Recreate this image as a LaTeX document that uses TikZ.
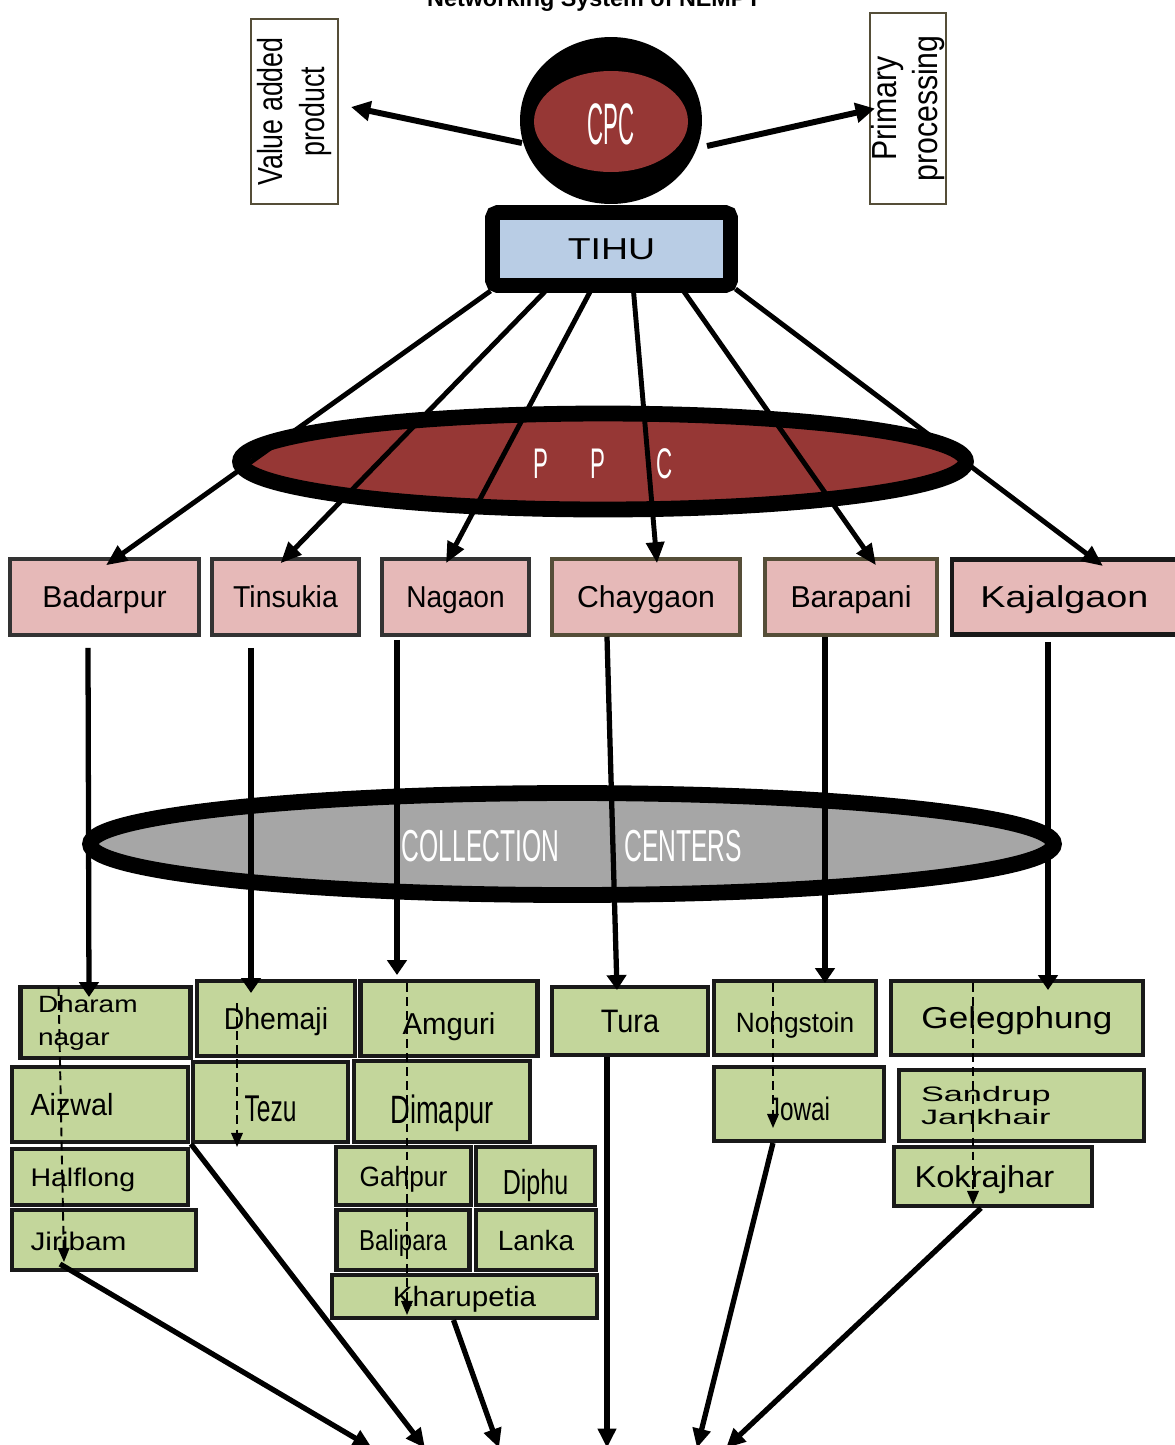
\documentclass[tikz,border=0pt]{standalone}
\usepackage{fontspec}
\setmainfont{Liberation Sans}
\usetikzlibrary{positioning,calc,arrows.meta,shapes.geometric}
\definecolor{cpcred}{RGB}{150,55,53}
\definecolor{tihublue}{RGB}{185,205,229}
\definecolor{pinkbox}{RGB}{230,185,184}
\definecolor{greenbox}{RGB}{195,214,155}
\definecolor{ccgray}{RGB}{166,166,166}
\definecolor{olive}{RGB}{85,78,56}
\newcommand{\fsz}[2]{\fontsize{#1}{#2}\selectfont}
\newcommand{\sx}[2]{\scalebox{#1}[1]{#2}}

\begin{document}
\begin{tikzpicture}[x=0.02cm,y=-0.02cm,
		caph/.style={text height=#1,text depth=0pt},
		sidebox/.style={draw=olive,line width=1.2pt,fill=white,rotate=90,align=center,inner sep=0pt,font=\fsz{19.8}{23.5}},
		hubbox/.style={draw=black!80,line width=2pt,fill=pinkbox,inner sep=0pt,minimum height=1.52cm,font=\fsz{17.2}{20},caph=12.3pt},
		locbox/.style={draw=black!90,line width=2.3pt,fill=greenbox,inner sep=0pt},
		bigarr/.style={line width=3.4pt,-{Triangle[length=11pt,width=11pt]}},
		linkarr/.style={line width=2.8pt,-{Triangle[length=12pt,width=10pt]}},
		downarr/.style={line width=3pt,-{Triangle[length=8.5pt,width=11pt]}},
		feedarr/.style={line width=1.1pt,dash pattern=on 5pt off 3pt,-{Triangle[length=8pt,width=6.5pt]}},
		outarr/.style={line width=3pt,-{Triangle[length=11pt,width=10pt]}}]
		\useasboundingbox (0,0) rectangle (1175,1445);
		\node[font=\bfseries\fsz{13.3}{16},anchor=base] (title) at (594,6) {Networking System of NEMPT};

		% top level
		\node[sidebox,minimum width=3.7cm,minimum height=1.74cm] (vap) at (294.5,111.5) {\sx{0.77}{Value added}\\\sx{0.77}{product}};
		\node[sidebox,minimum width=3.82cm,minimum height=1.52cm] (pp) at (908,108.5) {\sx{0.87}{Primary}\\\sx{0.87}{processing}};
		\node[ellipse,fill=black,minimum width=3.64cm,minimum height=3.34cm] (cpc) at (611,120.5) {};
		\node[ellipse,fill=cpcred,minimum width=3.08cm,minimum height=2.02cm,text=white,font=\fsz{33.3}{36},caph=26.6pt] (cpcin) at (611,121.5) {\sx{0.38}{CPC}};
		\node[draw=black,line width=8.5pt,fill=tihublue,rounded corners=3pt,minimum width=4.76cm,minimum height=1.46cm,font=\fsz{17.2}{20}] (tihu) at (611.5,249) {\sx{1.24}{TIHU}};
		\draw[bigarr] ($(cpc.center)+(-89,22.5)$) -- ($(vap.south)+(12,-4.5)$);
		\draw[bigarr] ($(cpc.center)+(96,25.5)$) -- ($(pp.north)+(6,0)$);

		% processing centres
		\node[ellipse,draw=black,line width=9pt,fill=cpcred,minimum width=14.52cm,minimum height=1.92cm,text=white,font=\fsz{24.4}{27},caph=19.7pt] (ppc) at (603,461.5) {\sx{0.52}{P}\hspace{0.86cm}\sx{0.52}{P}\hspace{1.02cm}\sx{0.52}{C}};
		\node[hubbox,minimum width=3.78cm] (bad) at (104.5,597) {Badarpur};
		\node[hubbox,minimum width=2.94cm] (tin) at (285.5,597) {\sx{0.94}{Tinsukia}};
		\node[hubbox,minimum width=2.94cm] (nag) at (455.5,597) {\sx{0.93}{Nagaon}};
		\node[hubbox,draw=olive,minimum width=3.76cm] (chay) at (646,597) {Chaygaon};
		\node[hubbox,draw=olive,minimum width=3.44cm] (bar) at (851,597) {Barapani};
		\node[hubbox,draw=black!90,line width=2.8pt,minimum width=4.5cm,minimum height=1.5cm] (kaj) at (1064.5,597) {\sx{1.25}{Kajalgaon}};
		\draw[linkarr] ($(tihu.south)+(-121,-2)$) -- ($(bad.north)+(1.5,8)$);
		\draw[linkarr] ($(tihu.south)+(-66,-2)$) -- ($(tin.north)+(-5,6)$);
		\draw[linkarr] ($(tihu.south)+(-21,-2)$) -- ($(nag.north)+(-9.5,6)$);
		\draw[linkarr] ($(tihu.south)+(22,-2)$) -- ($(chay.north)+(11,6)$);
		\draw[linkarr] ($(tihu.south)+(72,-2)$) -- ($(bar.north)+(25,8)$);
		\draw[linkarr] ($(tihu.south)+(124,-4)$) -- ($(kaj.north)+(38.5,9)$);

		% collection centres
		\node[ellipse,draw=black,line width=9pt,fill=ccgray,minimum width=19.28cm,minimum height=2.04cm,text=white,font=\fsz{25.5}{28},caph=20pt] (cc) at (572,844) {\sx{0.55}{COLLECTION}\hspace{1.3cm}\sx{0.55}{CENTERS}};

		\node[locbox,minimum width=3.4cm,minimum height=1.42cm,text width=2.7cm,align=left,font=\fsz{13.4}{18.7}] (dhar) at (105.5,1022.5) {\sx{1.19}{Dharam}\\\sx{1.19}{nagar}};
		\node[locbox,minimum width=3.52cm,minimum height=1.5cm,text width=2.78cm,align=left,font=\fsz{17.4}{20},caph=12.5pt] (aiz) at (100,1104.5) {\sx{0.94}{Aizwal}};
		\node[locbox,minimum width=3.52cm,minimum height=1.12cm,text width=2.78cm,align=left,font=\fsz{14.5}{17},caph=10.4pt] (half) at (100,1177) {\sx{1.12}{Halflong}};
		\node[locbox,minimum width=3.68cm,minimum height=1.2cm,text width=2.94cm,align=left,font=\fsz{14.5}{17},caph=11.5pt] (jiri) at (104,1240) {\sx{1.17}{Jiribam}};
		\node[locbox,minimum width=3.16cm,minimum height=1.5cm,font=\fsz{17.2}{20},caph=12.3pt] (dhem) at (276,1018.5) {\sx{0.94}{Dhemaji}};
		\node[locbox,minimum width=3.1cm,minimum height=1.6cm,font=\fsz{21.2}{24},caph=22.6pt] (tezu) at (270.5,1102) {\sx{0.66}{Tezu}};
		\node[locbox,minimum width=3.54cm,minimum height=1.5cm,font=\fsz{17.2}{20},caph=18.5pt] (amg) at (449,1018.5) {\sx{0.97}{Amguri}};
		\node[locbox,minimum width=3.52cm,minimum height=1.62cm,font=\fsz{22.5}{25},caph=24.6pt] (dima) at (442,1101.5) {\sx{0.69}{Dimapur}};
		\node[locbox,minimum width=2.7cm,minimum height=1.16cm,font=\fsz{15.9}{18},caph=12.5pt] (gah) at (403.5,1176) {\sx{0.94}{Gahpur}};
		\node[locbox,minimum width=2.38cm,minimum height=1.16cm,font=\fsz{19.8}{22},caph=21.6pt] (diphu) at (535.5,1176) {\sx{0.72}{Diphu}};
		\node[locbox,minimum width=2.66cm,minimum height=1.2cm,font=\fsz{16.4}{19},caph=11.7pt] (bali) at (403,1240) {\sx{0.83}{Balipara}};
		\node[locbox,minimum width=2.4cm,minimum height=1.2cm,font=\fsz{15.9}{18},caph=11.4pt] (lanka) at (536,1240) {Lanka};
		\node[locbox,minimum width=5.3cm,minimum height=0.86cm,font=\fsz{15.9}{18},caph=11.4pt] (kharu) at (464.5,1296.5) {\sx{1.06}{Kharupetia}};
		\node[locbox,minimum width=3.12cm,minimum height=1.36cm,font=\fsz{18.5}{21},caph=13.2pt] (tura) at (630,1021) {\sx{0.89}{Tura}};
		\node[locbox,minimum width=3.24cm,minimum height=1.48cm,font=\fsz{15.9}{18},caph=17pt] (nong) at (795,1018) {\sx{0.94}{Nongstoin}};
		\node[locbox,minimum width=3.4cm,minimum height=1.48cm,font=\fsz{18.5}{21},caph=18.3pt] (jowai) at (799,1104) {\sx{0.75}{Jowai}};
		\node[locbox,minimum width=5.04cm,minimum height=1.48cm,font=\fsz{17.2}{20},caph=12.3pt] (gel) at (1017,1018) {\sx{1.16}{Gelegphung}};
		\node[locbox,minimum width=4.9cm,minimum height=1.42cm,text width=4.02cm,align=left,font=\fsz{11.9}{13.6}] (sand) at (1021.5,1105.5) {\sx{1.64}{Sandrup}\\\sx{1.64}{Jankhair}};
		\node[locbox,minimum width=3.96cm,minimum height=1.18cm,text width=3.14cm,align=left,font=\fsz{17.2}{20},caph=12.3pt] (kok) at (993,1176.5) {\sx{1.08}{Kokrajhar}};

		\draw[downarr] ($(bad.south)+(-16.5,11)$) -- ($(dhar.north)+(-16.5,12)$);
		\draw[downarr] ($(tin.south)+(-34.5,11)$) -- ($(dhem.north)+(-25,14)$);
		\draw[downarr] ($(nag.south)+(-58.5,3)$) -- ($(amg.north)+(-52,-4)$);
		\draw[downarr] ($(chay.south)+(-39,0)$) -- ($(tura.north)+(-13,5)$);
		\draw[downarr] ($(bar.south)+(-26,0)$) -- ($(nong.north)+(30,4)$);
		\draw[downarr] ($(kaj.south)+(-16.5,5)$) -- ($(gel.north)+(31,11)$);

		\draw[feedarr] ($(dhar.north)+(-47,2)$) -- ($(jiri.south)+(-40,-10)$);
		\draw[feedarr] ($(dhem.north)+(-39,24)$) -- ($(tezu.south)+(-33.5,3)$);
		\draw[feedarr] ($(amg.north)+(-42,4)$) -- ($(kharu.south)+(-57.5,-5)$);
		\draw[feedarr] ($(nong.north)+(-22,4)$) -- ($(jowai.south)+(-26,-15)$);
		\draw[feedarr] ($(gel.north)+(-44,4)$) -- ($(kok.south)+(-20,-3)$);

		% towards the markets below
		\coordinate (b1) at (372,1448);
		\coordinate (b2) at (425,1448);
		\coordinate (b3) at (499,1448);
		\coordinate (b4) at (607,1448);
		\coordinate (b5) at (697,1448);
		\coordinate (b6) at (726,1448);
		\draw[outarr] ($(jiri.south)+(-44,-8)$) -- (b1);
		\draw[outarr] (tezu.south west) -- (b2);
		\draw[outarr] ($(kharu.south)+(-11,0)$) -- (b3);
		\draw[outarr] ($(tura.south)+(-23,0)$) -- (b4);
		\draw[outarr] ($(jowai.south)+(-26,0)$) -- (b5);
		\draw[outarr] ($(kok.south)+(-12,0)$) -- (b6);
	\end{tikzpicture}
\end{document}
